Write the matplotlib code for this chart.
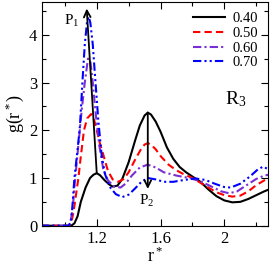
import matplotlib
matplotlib.use('Agg')
import matplotlib.pyplot as plt
from matplotlib.ticker import MultipleLocator, FixedLocator, FixedFormatter

plt.rcParams['font.family'] = ['Liberation Serif', 'DejaVu Serif']
plt.rcParams['mathtext.fontset'] = 'custom'
plt.rcParams['mathtext.rm'] = 'Liberation Serif'
plt.rcParams['mathtext.it'] = 'Liberation Serif'

# g(r*) for the R3 region at four densities
r_040 = [0.85, 1.04, 1.06, 1.08, 1.10, 1.13, 1.158, 1.18, 1.20, 1.22, 1.25, 1.28, 1.30, 1.33,
         1.36, 1.40, 1.44, 1.47, 1.50, 1.52, 1.54, 1.57, 1.60, 1.64, 1.68, 1.72, 1.76, 1.80,
         1.85, 1.90, 1.95, 2.00, 2.05, 2.10, 2.15, 2.20, 2.25, 2.28]
g_040 = [0.0, 0.0, 0.05, 0.2, 0.5, 0.8, 1.0, 1.07, 1.10, 1.06, 0.95, 0.86, 0.82, 0.84,
         0.98, 1.33, 1.78, 2.1, 2.31, 2.37, 2.33, 2.18, 1.97, 1.64, 1.40, 1.23, 1.12, 1.03,
         0.92, 0.76, 0.62, 0.53, 0.49, 0.50, 0.56, 0.64, 0.72, 0.76]

r_050 = [0.85, 1.025, 1.04, 1.055, 1.07, 1.085, 1.10, 1.12, 1.14, 1.165, 1.185, 1.20, 1.22,
         1.24, 1.27, 1.30, 1.335, 1.37, 1.40, 1.44, 1.48, 1.50, 1.52, 1.54, 1.57, 1.60, 1.65,
         1.70, 1.75, 1.80, 1.85, 1.90, 1.95, 2.00, 2.05, 2.10, 2.15, 2.20, 2.25, 2.28]
g_050 = [0.0, 0.0, 0.05, 0.3, 0.65, 1.0, 1.45, 2.0, 2.25, 2.34, 2.2, 2.0, 1.72,
         1.5, 1.15, 0.97, 0.92, 0.98, 1.12, 1.38, 1.62, 1.70, 1.73, 1.70, 1.60, 1.46, 1.28,
         1.16, 1.07, 1.0, 0.9, 0.8, 0.70, 0.64, 0.61, 0.63, 0.72, 0.85, 0.95, 0.98]

r_060 = [0.85, 1.02, 1.035, 1.05, 1.065, 1.085, 1.105, 1.125, 1.145, 1.16, 1.175, 1.195, 1.215,
         1.24, 1.27, 1.31, 1.35, 1.38, 1.42, 1.47, 1.52, 1.57, 1.62, 1.70, 1.78, 1.85, 1.92,
         1.98, 2.03, 2.08, 2.14, 2.20, 2.25, 2.28]
g_060 = [0.0, 0.0, 0.05, 0.4, 1.0, 1.7, 2.4, 3.0, 3.5, 3.45, 3.0, 2.3, 1.7,
         1.2, 0.95, 0.82, 0.80, 0.88, 1.05, 1.22, 1.28, 1.22, 1.12, 1.05, 1.0, 0.93, 0.82,
         0.72, 0.68, 0.72, 0.85, 0.98, 1.05, 1.07]

r_070 = [0.85, 1.02, 1.035, 1.045, 1.06, 1.08, 1.095, 1.11, 1.125, 1.14, 1.15, 1.16, 1.175,
         1.19, 1.21, 1.23, 1.25, 1.28, 1.32, 1.36, 1.40, 1.44, 1.48, 1.52, 1.57, 1.62, 1.68,
         1.75, 1.82, 1.88, 1.94, 2.00, 2.04, 2.10, 2.16, 2.21, 2.245, 2.28]
g_070 = [0.0, 0.0, 0.05, 0.3, 1.0, 1.6, 2.1, 3.0, 3.8, 4.3, 4.38, 4.25, 3.8,
         3.1, 2.2, 1.5, 1.1, 0.82, 0.66, 0.60, 0.65, 0.78, 0.92, 1.0, 0.97, 0.92, 0.92,
         0.96, 0.99, 0.96, 0.88, 0.81, 0.80, 0.88, 1.03, 1.18, 1.24, 1.17]

labels = ['0.40', '0.50', '0.60', '0.70']
colors = ['black', '#ff0000', '#7a2fd4', '#0000ff']
styles = ['-', (0, (3.5, 2)), (0, (4, 1.5, 1, 1.5)), (0, (4, 1.5, 1, 1.5, 1, 1.5))]

# peak markers
p1_from, p1_to = (1.20, 1.10), (1.137, 4.55)
p2_from, p2_to = (1.52, 2.37), (1.52, 0.77)

fig = plt.figure(figsize=(2.73, 2.70), dpi=100)
ax = fig.add_axes([0.154, 0.164, 0.829, 0.829])

series = [(r_040, g_040), (r_050, g_050), (r_060, g_060), (r_070, g_070)]
for (r, g), lab, c, ls in zip(series, labels, colors, styles):
    ax.plot(r, g, color=c, linestyle=ls, linewidth=1.5, label=lab)

arrow = dict(arrowstyle='->', color='black', lw=1.3, shrinkA=0, shrinkB=0,
             mutation_scale=12)
ax.annotate('', xy=p1_to, xytext=p1_from, arrowprops=arrow)
ax.annotate('', xy=p2_to, xytext=p2_from, arrowprops=arrow)
ax.text(1.045, 4.3, 'P$_1$', fontsize=11, ha='center', va='center')
ax.text(1.515, 0.52, 'P$_2$', fontsize=11, ha='center', va='center')
ax.text(2.07, 2.66, 'R$_3$', fontsize=14, ha='center', va='center')

ax.set_xlim(0.857, 2.276)
ax.set_ylim(0, 4.69)
ax.xaxis.set_major_locator(FixedLocator([1.2, 1.6, 2.0]))
ax.xaxis.set_major_formatter(FixedFormatter(['1.2', '1.6', '2']))
ax.xaxis.set_minor_locator(MultipleLocator(0.2))
ax.yaxis.set_major_locator(MultipleLocator(1))
ax.yaxis.set_minor_locator(MultipleLocator(0.5))
ax.tick_params(which='both', direction='in', top=True, right=True, labelsize=12)
ax.tick_params(which='major', length=5, width=0.8)
ax.tick_params(which='minor', length=3, width=0.8)

ax.set_xlabel('r$^*$', fontsize=13, labelpad=0)
ax.set_ylabel('g(r$^*$)', fontsize=13, labelpad=2)

ax.legend(loc='upper right', frameon=False, fontsize=10.5, handlelength=2.2,
          handletextpad=0.5, labelspacing=0.1, borderaxespad=0.3)

fig.savefig('out.png', dpi=100)
